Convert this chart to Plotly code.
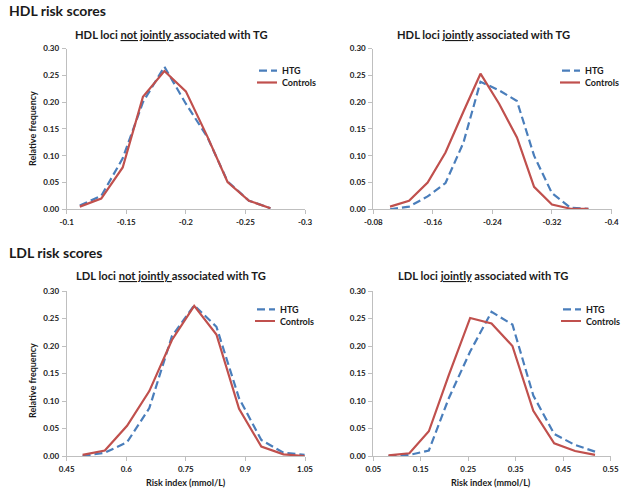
import plotly.graph_objects as go

# ---------------- data ----------------
# Panel A: HDL loci not jointly associated with TG
hdl_not_x = [-0.111, -0.129, -0.147, -0.164, -0.182, -0.200, -0.218, -0.235, -0.253, -0.271]
hdl_not_htg = [0.007, 0.025, 0.095, 0.200, 0.266, 0.197, 0.135, 0.052, 0.016, 0.002]
hdl_not_ctl = [0.005, 0.020, 0.078, 0.210, 0.258, 0.220, 0.136, 0.051, 0.016, 0.002]

# Panel B: HDL loci jointly associated with TG
hdl_joint_x = [-0.1025, -0.128, -0.153, -0.177, -0.201, -0.224, -0.249, -0.273, -0.296, -0.320, -0.345, -0.369]
hdl_joint_htg = [0.000, 0.005, 0.024, 0.049, 0.124, 0.238, 0.222, 0.202, 0.100, 0.030, 0.003, 0.001]
hdl_joint_ctl = [0.005, 0.016, 0.050, 0.106, 0.182, 0.253, 0.197, 0.134, 0.042, 0.009, 0.001, 0.001]

# Panel C: LDL loci not jointly associated with TG
ldl_not_x = [0.490, 0.546, 0.602, 0.658, 0.715, 0.771, 0.827, 0.884, 0.940, 0.996, 1.049]
ldl_not_htg = [0.000, 0.006, 0.025, 0.087, 0.218, 0.274, 0.235, 0.105, 0.029, 0.006, 0.002]
ldl_not_ctl = [0.002, 0.010, 0.055, 0.118, 0.211, 0.273, 0.221, 0.086, 0.017, 0.003, 0.000]

# Panel D: LDL loci jointly associated with TG
ldl_joint_x = [0.082, 0.126, 0.167, 0.209, 0.254, 0.299, 0.343, 0.387, 0.431, 0.475, 0.517]
ldl_joint_htg = [0.000, 0.002, 0.010, 0.105, 0.190, 0.262, 0.239, 0.110, 0.040, 0.020, 0.008]
ldl_joint_ctl = [0.001, 0.005, 0.045, 0.147, 0.251, 0.241, 0.200, 0.082, 0.023, 0.009, 0.002]

# tick labels
y_ticks = [0, 0.05, 0.10, 0.15, 0.20, 0.25, 0.30]
y_ticktext = ["0.00", "0.05", "0.10", "0.15", "0.20", "0.25", "0.30"]
xA_ticks = [-0.1, -0.15, -0.2, -0.25, -0.3]
xA_ticktext = ["-0.1", "-0.15", "-0.2", "-0.25", "-0.3"]
xB_ticks = [-0.08, -0.16, -0.24, -0.32, -0.4]
xB_ticktext = ["-0.08", "-0.16", "-0.24", "-0.32", "-0.4"]
xC_ticks = [0.45, 0.6, 0.75, 0.9, 1.05]
xC_ticktext = ["0.45", "0.6", "0.75", "0.9", "1.05"]
xD_ticks = [0.05, 0.15, 0.25, 0.35, 0.45, 0.55]
xD_ticktext = ["0.05", "0.15", "0.25", "0.35", "0.45", "0.55"]

series_names = ["HTG", "Controls"]

# ---------------- styling ----------------
W, H = 624, 493
FONT = "Lato"
BLUE = "#4A7EBB"
RED = "#C0504D"
AX = "#BFBFBF"
TXT = "#1a1a1a"


def px_x(p):
    return p / W


def px_y(p):
    return 1 - p / H


fig = go.Figure()

panels = [
    ("", hdl_not_x, hdl_not_htg, hdl_not_ctl, xA_ticks, xA_ticktext, [-0.1, -0.3]),
    ("2", hdl_joint_x, hdl_joint_htg, hdl_joint_ctl, xB_ticks, xB_ticktext, [-0.08, -0.4]),
    ("3", ldl_not_x, ldl_not_htg, ldl_not_ctl, xC_ticks, xC_ticktext, [0.45, 1.05]),
    ("4", ldl_joint_x, ldl_joint_htg, ldl_joint_ctl, xD_ticks, xD_ticktext, [0.05, 0.55]),
]

# plot-area pixel boxes (left, right, top, bottom)
boxes = [
    (66.7, 305.0, 48.5, 209.3),
    (373.3, 611.5, 48.5, 209.3),
    (66.7, 305.0, 291.0, 456.0),
    (373.3, 610.7, 291.0, 456.0),
]

# legend text left / row centres
legend_pos = [
    (280, 70.7, 82.5),
    (583, 70.7, 82.5),
    (278, 309.3, 321.0),
    (584, 309.3, 321.0),
]
TEXT_OFFSET = 23  # distance from legend left edge to entry text with indentation -15

layout_extra = {}
for i, (sfx, xs, htg, ctl, tv, tt, rng) in enumerate(panels):
    xa = "x" + sfx
    ya = "y" + sfx
    lg_h = "legend" + (str(2 * i + 1) if i > 0 else "")
    lg_c = "legend" + str(2 * i + 2)
    fig.add_trace(go.Scatter(x=xs, y=htg, mode="lines", name=series_names[0],
                             line=dict(color=BLUE, width=2.2, dash="8px,4px"),
                             xaxis=xa, yaxis=ya, legend=lg_h))
    fig.add_trace(go.Scatter(x=xs, y=ctl, mode="lines", name=series_names[1],
                             line=dict(color=RED, width=2.2),
                             xaxis=xa, yaxis=ya, legend=lg_c))
    l, r, t, b = boxes[i]
    axcommon = dict(showline=True, linecolor=AX, linewidth=1, ticks="outside",
                    ticklen=4, tickcolor=AX, tickwidth=1, showgrid=False, zeroline=False,
                    tickfont=dict(family=FONT, size=8, color=TXT, weight="bold"))
    layout_extra["xaxis" + sfx] = dict(axcommon, domain=[px_x(l), px_x(r)], anchor=ya,
                                       range=rng, tickmode="array", tickvals=tv, ticktext=tt,
                                       ticklabelstandoff=1)
    layout_extra["yaxis" + sfx] = dict(axcommon, domain=[px_y(b), px_y(t)], anchor=xa,
                                       range=[0, 0.30], tickmode="array", tickvals=y_ticks,
                                       ticktext=y_ticktext, ticklabelstandoff=1)
    tx, yh, yc = legend_pos[i]
    for name, yy in ((lg_h, yh), (lg_c, yc)):
        layout_extra[name] = dict(x=px_x(tx - TEXT_OFFSET), y=px_y(yy), xanchor="left",
                                  yanchor="middle", indentation=-15,
                                  bgcolor="rgba(0,0,0,0)", borderwidth=0,
                                  font=dict(family=FONT, size=9, color=TXT, weight="bold"))

fig.update_layout(**layout_extra)

annotations = []
# section headings
annotations.append(dict(text="<b>HDL risk scores</b>", x=px_x(7), y=px_y(11), xanchor="left",
                        yanchor="middle", font=dict(family=FONT, size=14, color=TXT)))
annotations.append(dict(text="<b>LDL risk scores</b>", x=px_x(7), y=px_y(252.7), xanchor="left",
                        yanchor="middle", font=dict(family=FONT, size=14, color=TXT)))
# panel titles
titles = [
    ("<b>HDL loci <u>not jointly </u>associated with TG</b>", 171, 34),
    ("<b>HDL loci <u>jointly</u> associated with TG</b>", 483, 34),
    ("<b>LDL loci <u>not jointly </u>associated with TG</b>", 171, 275),
    ("<b>LDL loci <u>jointly</u> associated with TG</b>", 483, 275),
]
for txt, cx, cy in titles:
    annotations.append(dict(text=txt, x=px_x(cx), y=px_y(cy), xanchor="center", yanchor="middle",
                            font=dict(family=FONT, size=11.2, color=TXT)))
# y axis titles
for cy in (129, 381):
    annotations.append(dict(text="<b>Relative frequency</b>", x=px_x(32), y=px_y(cy), textangle=-90,
                            xanchor="center", yanchor="middle",
                            font=dict(family=FONT, size=9, color=TXT)))
# x axis titles
for cx in (186, 491):
    annotations.append(dict(text="<b>Risk index (mmol/L)</b>", x=px_x(cx), y=px_y(482),
                            xanchor="center", yanchor="middle",
                            font=dict(family=FONT, size=9, color=TXT)))
for a in annotations:
    a.update(xref="paper", yref="paper", showarrow=False)

fig.update_layout(width=W, height=H,
                  margin=dict(l=0, r=0, t=0, b=0, autoexpand=False),
                  showlegend=True,
                  paper_bgcolor="white", plot_bgcolor="white",
                  annotations=annotations, font=dict(family=FONT, color=TXT))

fig.write_html("out.html", config={"displayModeBar": False},
               post_script="document.body.style.margin='0';document.body.style.overflow='hidden';")
